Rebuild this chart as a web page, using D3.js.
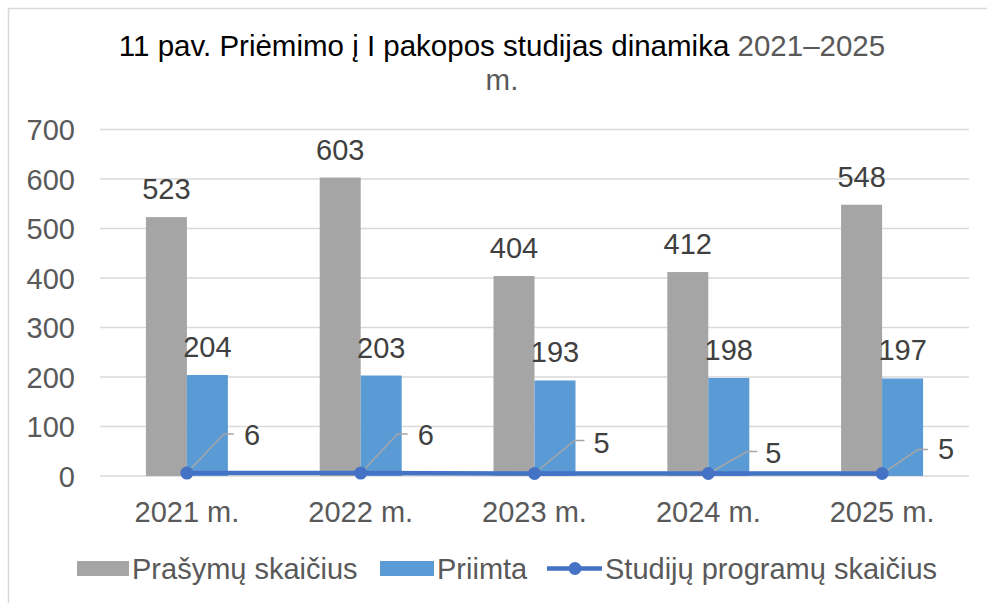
<!DOCTYPE html>
<html>
<head>
<meta charset="utf-8">
<script src="https://cdn.jsdelivr.net/npm/d3@7"></script>
<style>
  html, body { margin: 0; padding: 0; background: #fff; }
  svg { display: block; font-family: "Liberation Sans", Arial, sans-serif; }
</style>
</head>
<body>
<svg id="chart" width="987" height="603"></svg>
<script>
// chart data
var years = ["2021 m.", "2022 m.", "2023 m.", "2024 m.", "2025 m."];
var prasymai = [523, 603, 404, 412, 548];
var priimta = [204, 203, 193, 198, 197];
var programos = [6, 6, 5, 5, 5];
var yTicks = [0, 100, 200, 300, 400, 500, 600, 700];
var seriesNames = ["Prašymų skaičius", "Priimta", "Studijų programų skaičius"];

// manual label placement for the line series (elbow dx, dy, text dx, dy)
var lineLabelOffsets = [
  [37, -39, 57, -28],
  [37, -39, 57, -28],
  [40, -33, 59, -21],
  [39, -22, 57, -11],
  [36, -24, 56, -15]
];

var grey = "#a5a5a5", blue = "#5b9bd5", lineBlue = "#4472c4";
var fs = 29;

var svg = d3.select("#chart");

// outer frame
svg.append("rect")
  .attr("x", 8.5).attr("y", 8.5)
  .attr("width", 1000).attr("height", 700)
  .attr("fill", "#fff")
  .attr("stroke", "#d9d9d9")
  .attr("stroke-width", 1.5);

// title
var title = svg.append("text")
  .attr("text-anchor", "middle")
  .attr("font-size", 29.5)
  .attr("fill", "#000");
title.append("tspan").attr("x", 502).attr("y", 56)
  .text("11 pav. Priėmimo į I pakopos studijas dinamika ")
  .append("tspan").attr("fill", "#595959").text("2021–2025");
title.append("tspan").attr("x", 502).attr("y", 90)
  .attr("fill", "#595959").text("m.");

var x = d3.scaleBand().domain(years).range([100, 969]);
var y = d3.scaleLinear().domain([0, 700]).range([476, 129.5]);
var barW = 41;

// gridlines
svg.append("g").selectAll("line")
  .data(yTicks).enter().append("line")
  .attr("x1", 100).attr("x2", 969)
  .attr("y1", function (d) { return y(d); })
  .attr("y2", function (d) { return y(d); })
  .attr("stroke", "#d9d9d9")
  .attr("stroke-width", 1.5);

// y axis
var yAxis = svg.append("g")
  .attr("transform", "translate(75,0)")
  .call(d3.axisLeft(y).tickValues(yTicks).tickSize(0).tickPadding(0));
yAxis.select(".domain").remove();
yAxis.selectAll("text")
  .attr("font-size", fs)
  .attr("font-family", "Liberation Sans, Arial, sans-serif")
  .attr("fill", "#595959")
  .attr("dy", "0.35em");

// x axis
var xAxis = svg.append("g")
  .attr("transform", "translate(0,476)")
  .call(d3.axisBottom(x).tickSize(0).tickPadding(0));
xAxis.select(".domain").remove();
xAxis.selectAll("text")
  .attr("font-size", fs)
  .attr("font-family", "Liberation Sans, Arial, sans-serif")
  .attr("fill", "#595959")
  .attr("dy", 0)
  .attr("y", 46);

function cx(i) { return x(years[i]) + x.bandwidth() / 2; }

// bars
var bars = svg.append("g");
bars.selectAll("rect.p")
  .data(prasymai).enter().append("rect")
  .attr("class", "p")
  .attr("x", function (d, i) { return cx(i) - barW; })
  .attr("y", function (d) { return y(d); })
  .attr("width", barW)
  .attr("height", function (d) { return y(0) - y(d); })
  .attr("fill", grey);
bars.selectAll("rect.a")
  .data(priimta).enter().append("rect")
  .attr("class", "a")
  .attr("x", function (d, i) { return cx(i); })
  .attr("y", function (d) { return y(d); })
  .attr("width", barW)
  .attr("height", function (d) { return y(0) - y(d); })
  .attr("fill", blue);

// bar labels
var labels = svg.append("g")
  .attr("font-size", fs)
  .attr("fill", "#404040")
  .attr("text-anchor", "middle");
labels.selectAll("text.p")
  .data(prasymai).enter().append("text")
  .attr("class", "p")
  .attr("x", function (d, i) { return cx(i) - barW / 2; })
  .attr("y", function (d) { return y(d) - 18; })
  .text(function (d) { return d; });
labels.selectAll("text.a")
  .data(priimta).enter().append("text")
  .attr("class", "a")
  .attr("x", function (d, i) { return cx(i) + barW / 2; })
  .attr("y", function (d) { return y(d) - 18; })
  .text(function (d) { return d; });

// line series
var line = d3.line()
  .x(function (d, i) { return cx(i); })
  .y(function (d) { return y(d); });
svg.append("path")
  .datum(programos)
  .attr("d", line)
  .attr("fill", "none")
  .attr("stroke", lineBlue)
  .attr("stroke-width", 4.5);

// leader lines
svg.append("g").selectAll("path")
  .data(programos).enter().append("path")
  .attr("d", function (d, i) {
    var o = lineLabelOffsets[i], px = cx(i), py = y(d);
    return "M" + px + "," + py + "L" + (px + o[0]) + "," + (py + o[1]) +
      "L" + (px + o[0] + 10) + "," + (py + o[1]);
  })
  .attr("fill", "none")
  .attr("stroke", "#a6a6a6")
  .attr("stroke-width", 1.5);

svg.append("g").selectAll("circle")
  .data(programos).enter().append("circle")
  .attr("cx", function (d, i) { return cx(i); })
  .attr("cy", function (d) { return y(d); })
  .attr("r", 6.5)
  .attr("fill", lineBlue);

svg.append("g")
  .attr("font-size", fs)
  .attr("fill", "#404040")
  .selectAll("text")
  .data(programos).enter().append("text")
  .attr("x", function (d, i) { return cx(i) + lineLabelOffsets[i][2]; })
  .attr("y", function (d, i) { return y(d) + lineLabelOffsets[i][3]; })
  .text(function (d) { return d; });

// legend
var legend = svg.append("g")
  .attr("font-size", fs)
  .attr("fill", "#595959");
legend.append("rect").attr("x", 77).attr("y", 561).attr("width", 52).attr("height", 15).attr("fill", grey);
legend.append("text").attr("x", 132).attr("y", 579).text(seriesNames[0]);
legend.append("rect").attr("x", 380).attr("y", 561).attr("width", 54).attr("height", 15).attr("fill", blue);
legend.append("text").attr("x", 437).attr("y", 579).text(seriesNames[1]);
legend.append("line").attr("x1", 547).attr("x2", 602).attr("y1", 568.5).attr("y2", 568.5)
  .attr("stroke", lineBlue).attr("stroke-width", 4.5);
legend.append("circle").attr("cx", 575).attr("cy", 568.5).attr("r", 6.5).attr("fill", lineBlue);
legend.append("text").attr("x", 605).attr("y", 579).text(seriesNames[2]);
</script>
</body>
</html>
